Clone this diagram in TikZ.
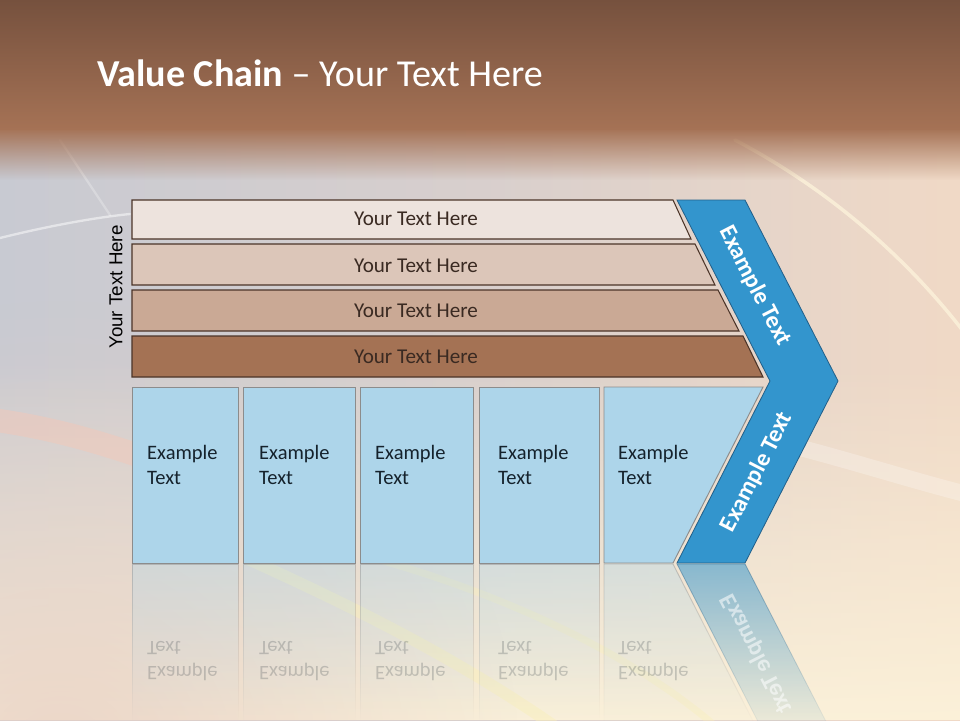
\documentclass[tikz,border=0pt]{standalone}
\usepackage{fontspec}
\setmainfont{Carlito}
\newfontfamily\vcsans{Liberation Sans}
\usepackage{xcolor}
\definecolor{vctop}{HTML}{76513E}
\definecolor{vcband}{HTML}{A57255}
\definecolor{vcbgleft}{HTML}{C8CAD2}
\definecolor{vcbgmid}{HTML}{D8CFCD}
\definecolor{vcbgright}{HTML}{F0D9C6}
\definecolor{vccreamleft}{HTML}{E8D0C4}
\definecolor{vccreamright}{HTML}{FCF2DA}
\definecolor{vcbarA}{HTML}{EDE3DD}
\definecolor{vcbarB}{HTML}{DCC6B9}
\definecolor{vcbarC}{HTML}{CAA995}
\definecolor{vcbarD}{HTML}{A47254}
\definecolor{vcline}{HTML}{4B3428}
\definecolor{vctext}{HTML}{3A2A22}
\definecolor{vcboxfill}{HTML}{ADD5EA}
\definecolor{vcgray}{HTML}{8C8C8C}
\definecolor{vcdark}{HTML}{15222C}
\definecolor{vcblue}{HTML}{3395CD}
\definecolor{vcbluedark}{HTML}{22608A}
\definecolor{vcpink}{HTML}{F6C7B6}
\definecolor{vcyellow}{HTML}{FBF0B8}
\usepackage{tikz}
\usetikzlibrary{fadings}
\tikzfading[name=vcglow,inner color=transparent!0,outer color=transparent!100]
\tikzset{
  vcbar/.style={draw=vcline,line width=0.9pt},
  vcbartext/.style={font=\fontsize{18}{21}\selectfont,text=vctext},
  vcbox/.style={draw=vcgray,line width=0.8pt,fill=vcboxfill},
  vcboxtext/.style={font=\fontsize{17.5}{21}\selectfont,text=vcdark,align=left,anchor=west,inner sep=0pt},
  vcchev/.style={draw=vcbluedark,line width=0.7pt,fill=vcblue},
  vcchevtext/.style={font=\bfseries\fontsize{20.5}{24}\selectfont,text=white},
  vcmirror/.style={fill opacity=0.35,draw opacity=0.45,path fading=south},
  vcmirrortext/.style={vcboxtext,text opacity=0.2,yscale=-1},
  vcstreak/.style={line cap=round,draw opacity=0.55},
}

\begin{document}
\begin{tikzpicture}[x=0.3mm,y=-0.3mm]
\useasboundingbox (0,0) rectangle (960,720);
\clip (0,0) rectangle (960,720);
\shade[left color=vcbgleft,right color=vcbgright,middle color=vcbgmid] (0,0) rectangle (960,720);
\fill[vccreamright,path fading=north,fill opacity=0.95] (0,360) rectangle (960,720);
\fill[vccreamleft,path fading=vcglow,fill opacity=0.8] (60,760) circle (460);
\draw[vcstreak,vcpink,line width=20pt,draw opacity=0.45] (-20,418) .. controls (60,428) and (110,446) .. (170,466);
\draw[vcstreak,white,line width=2pt,draw opacity=0.5] (0,238) .. controls (40,228) and (90,218) .. (130,214);
\draw[vcstreak,white,line width=2pt,draw opacity=0.25] (60,140) -- (110,215);
\draw[vcstreak,vccreamright,line width=3pt,draw opacity=0.8] (735,140) .. controls (830,190) and (910,260) .. (970,340);
\draw[vcstreak,white,line width=14pt,draw opacity=0.25] (770,440) .. controls (850,460) and (910,480) .. (970,495);
\draw[vcstreak,vcyellow,line width=10pt,draw opacity=0.45] (250,560) .. controls (360,610) and (460,660) .. (560,730);
\draw[vcstreak,vcyellow,line width=6pt,draw opacity=0.35] (380,560) .. controls (520,600) and (640,660) .. (720,730);
\shade[top color=vctop,bottom color=vcband] (0,0) rectangle (960,129);
\fill[vcband,path fading=south] (0,128) rectangle (960,180);
\node[anchor=west,text=white,font=\fontsize{32.5}{37}\selectfont] (title) at (93,73) {\textbf{Value Chain} -- Your Text Here};

\draw[vcbar,fill=vcbarA] (132,200) -- (673,200) -- (691,239) -- (132,239) -- cycle;
\node[vcbartext] (bar1) at (416,219) {Your Text Here};
\draw[vcbar,fill=vcbarB] (132,244) -- (695,244) -- (715,285) -- (132,285) -- cycle;
\node[vcbartext] (bar2) at (416,266) {Your Text Here};
\draw[vcbar,fill=vcbarC] (132,290) -- (718,290) -- (739,331) -- (132,331) -- cycle;
\node[vcbartext] (bar3) at (416,311) {Your Text Here};
\draw[vcbar,fill=vcbarD] (132,336) -- (743,336) -- (763,377) -- (132,377) -- cycle;
\node[vcbartext] (bar4) at (416,357) {Your Text Here};
\node[rotate=90,font=\vcsans\fontsize{16}{19}\selectfont] (side) at (116,287) {Your Text Here};

\draw[vcbox] (132,387) rectangle (238,563);
\node[vcboxtext] (box1) at (147,465) {Example\\Text};
\draw[vcbox] (243,387) rectangle (355,563);
\node[vcboxtext] (box2) at (259,465) {Example\\Text};
\draw[vcbox] (360,387) rectangle (473,563);
\node[vcboxtext] (box3) at (375,465) {Example\\Text};
\draw[vcbox] (479,387) rectangle (599,563);
\node[vcboxtext] (box4) at (498,465) {Example\\Text};
\draw[vcbox] (604,387) -- (763,387) -- (673,563) -- (604,563) -- cycle;
\node[vcboxtext] (box5) at (618,465) {Example\\Text};

\draw[vcchev] (677,200) -- (745,200) -- (838,381) -- (745,563) -- (677,563) -- (770,381) -- cycle;
\node[vcchevtext,rotate=-62.8] (upper) at (755,286) {Example Text};
\node[vcchevtext,rotate=62.8] (lower) at (757,472) {Example Text};

\draw[vcbox,vcmirror] (132,564) rectangle (238,720);
\draw[vcbox,vcmirror] (243,564) rectangle (355,720);
\draw[vcbox,vcmirror] (360,564) rectangle (473,720);
\draw[vcbox,vcmirror] (479,564) rectangle (599,720);
\draw[vcbox,vcmirror] (604,564) -- (673,564) -- (755,725) -- (604,725) -- cycle;
\draw[vcchev,vcmirror,fill opacity=0.55] (677,564) -- (745,564) -- (838,745) -- (770,745) -- cycle;
\node[vcmirrortext] (mirror1) at (147,661) {Example\\Text};
\node[vcmirrortext] (mirror2) at (259,661) {Example\\Text};
\node[vcmirrortext] (mirror3) at (375,661) {Example\\Text};
\node[vcmirrortext] (mirror4) at (498,661) {Example\\Text};
\node[vcmirrortext] (mirror5) at (618,661) {Example\\Text};
\node[vcchevtext,text opacity=0.55,rotate=-62.8,yscale=-1] (mirror6) at (757,654) {Example Text};
\end{tikzpicture}
\end{document}
